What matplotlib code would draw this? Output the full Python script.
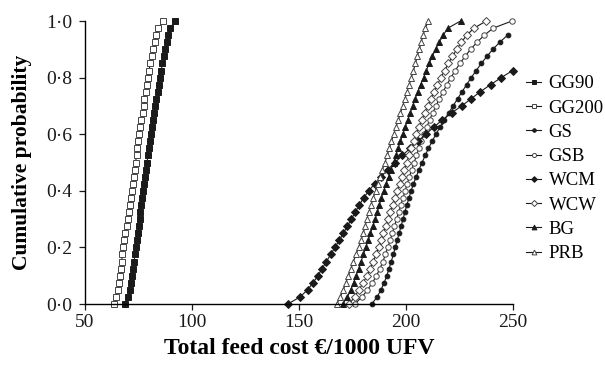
import matplotlib
matplotlib.use('Agg')
import matplotlib.pyplot as plt
from matplotlib.ticker import FuncFormatter

plt.rcParams['font.family'] = ['Liberation Serif', 'DejaVu Serif']

# cumulative probability grid shared by all series
prob = [0.0, 0.025, 0.05, 0.075, 0.1, 0.125, 0.15, 0.175, 0.2, 0.225,
        0.25, 0.275, 0.3, 0.325, 0.35, 0.375, 0.4, 0.425, 0.45, 0.475,
        0.5, 0.525, 0.55, 0.575, 0.6, 0.625, 0.65, 0.675, 0.7, 0.725,
        0.75, 0.775, 0.8, 0.825, 0.85, 0.875, 0.9, 0.925, 0.95, 0.975, 1.0]

# feed cost (EUR/1000 UFV) at each probability
gg90 = [68.8, 70.0, 70.8, 71.4, 72.0, 72.5, 72.9, 73.4, 73.8, 74.2,
        74.7, 75.1, 75.5, 75.9, 76.3, 76.8, 77.2, 77.6, 78.1, 78.5,
        79.0, 79.4, 79.9, 80.3, 80.8, 81.3, 81.8, 82.3, 82.8, 83.3,
        83.9, 84.4, 85.0, 85.6, 86.2, 86.8, 87.4, 88.1, 88.9, 89.9, 92.0]
gg200 = [63.5, 64.6, 65.3, 65.9, 66.3, 66.7, 67.1, 67.5, 67.9, 68.4,
         68.9, 69.4, 69.9, 70.4, 70.9, 71.3, 71.8, 72.3, 72.7, 73.2,
         73.6, 74.1, 74.5, 75.0, 75.4, 75.9, 76.4, 76.9, 77.4, 77.8,
         78.3, 78.8, 79.3, 79.9, 80.5, 81.2, 81.9, 82.6, 83.4, 84.3, 86.5]
gs = [184.0, 186.5, 188.3, 189.8, 191.0, 192.1, 193.1, 194.1, 195.0, 195.9,
      196.8, 197.7, 198.6, 199.5, 200.4, 201.4, 202.4, 203.5, 204.8, 206.1,
      207.5, 209.0, 210.5, 212.2, 214.0, 215.9, 217.9, 219.9, 222.0, 224.1,
      226.2, 228.3, 230.5, 232.8, 235.2, 237.8, 240.6, 243.8, 247.5]
gsb = [176.0, 179.5, 182.0, 184.3, 186.2, 187.8, 189.2, 190.4, 191.5, 192.6,
       193.6, 194.6, 195.6, 196.6, 197.6, 198.6, 199.6, 200.6, 201.6, 202.7,
       203.8, 204.9, 206.0, 207.2, 208.4, 209.7, 211.0, 212.5, 214.0, 215.6,
       217.3, 219.1, 221.0, 223.0, 225.2, 227.6, 230.2, 233.2, 236.6, 240.8, 249.5]
wcm = [144.8, 150.5, 154.0, 156.6, 158.8, 160.8, 162.8, 164.8, 166.8, 168.8,
       170.7, 172.6, 174.5, 176.3, 178.2, 180.2, 182.6, 185.4, 188.4, 191.5,
       194.8, 198.3, 201.9, 205.5, 209.2, 213.0, 216.9, 221.3, 226.0, 230.4,
       234.7, 239.5, 244.5, 249.8]
wcw = [173.5, 176.0, 178.0, 180.0, 181.8, 183.3, 184.7, 186.0, 187.2, 188.3,
       189.4, 190.5, 191.6, 192.6, 193.7, 194.8, 195.9, 197.0, 198.1, 199.2,
       200.3, 201.4, 202.5, 203.6, 204.8, 206.0, 207.3, 208.7, 210.1, 211.6,
       213.1, 214.7, 216.3, 218.0, 219.8, 221.7, 223.7, 225.9, 228.4, 231.8, 237.5]
bg = [170.5, 172.6, 174.2, 175.5, 176.7, 177.9, 179.0, 180.1, 181.2, 182.3,
      183.4, 184.5, 185.6, 186.6, 187.6, 188.5, 189.6, 190.7, 191.9, 193.0,
      194.2, 195.3, 196.3, 197.4, 198.5, 199.6, 200.8, 202.0, 203.1, 204.3,
      205.5, 206.8, 208.2, 209.5, 210.8, 212.3, 213.8, 215.5, 217.4, 219.6, 225.5]
prb = [167.6, 169.3, 170.7, 171.9, 173.1, 174.3, 175.4, 176.6, 177.9, 179.0,
       180.0, 180.9, 181.7, 182.7, 183.7, 184.7, 185.8, 186.8, 187.8, 188.9,
       190.2, 191.2, 192.2, 193.2, 194.3, 195.3, 196.4, 197.4, 198.5, 199.5,
       200.5, 201.5, 202.5, 203.5, 204.4, 205.3, 206.2, 207.1, 208.0, 209.0, 210.5]

names = ['GG90', 'GG200', 'GS', 'GSB', 'WCM', 'WCW', 'BG', 'PRB']
series = [gg90, gg200, gs, gsb, wcm, wcw, bg, prb]
markers = ['s', 's', 'o', 'o', 'D', 'D', '^', '^']
sizes = [4.4, 4.4, 3.4, 3.9, 3.9, 4.1, 4.6, 4.6]
filled = [True, False, True, False, True, False, True, False]

fig = plt.figure(figsize=(6.05, 3.65), dpi=100)
ax = fig.add_axes([0.1405, 0.1671, 0.7074, 0.7753])

for name, xs, m, ms, f in zip(names, series, markers, sizes, filled):
    ax.plot(xs, prob[:len(xs)], color='#1a1a1a', lw=0.8, marker=m, markersize=ms,
            markerfacecolor='#1a1a1a' if f else 'white',
            markeredgecolor='#1a1a1a' if f else '#444444',
            markeredgewidth=0.7, label=name, clip_on=False)

ax.set_xlim(50, 250)
ax.set_ylim(0, 1.0)
ax.set_xticks([50, 100, 150, 200, 250])
ax.set_yticks([0, 0.2, 0.4, 0.6, 0.8, 1.0])
ax.yaxis.set_major_formatter(FuncFormatter(lambda v, p: f'{v:.1f}'.replace('.', '\u00b7')))
ax.spines['top'].set_visible(False)
ax.spines['right'].set_visible(False)
for s in ['left', 'bottom']:
    ax.spines[s].set_linewidth(1.0)
ax.tick_params(direction='out', length=4, width=0.9, labelsize=14, colors='#1a1a1a')
ax.tick_params(axis='y', pad=5)

ax.set_xlabel('Total feed cost \u20ac/1000 UFV', fontsize=17, fontweight='bold', labelpad=5)
ax.set_ylabel('Cumulative probability', fontsize=15.5, fontweight='bold', labelpad=10)

ax.legend(loc='center left', bbox_to_anchor=(1.0, 0.478), frameon=False, fontsize=13.5,
          handlelength=0.8, handletextpad=0.4, labelspacing=0.38, markerscale=0.75,
          borderaxespad=0.3)

fig.savefig('out.png', dpi=100)
